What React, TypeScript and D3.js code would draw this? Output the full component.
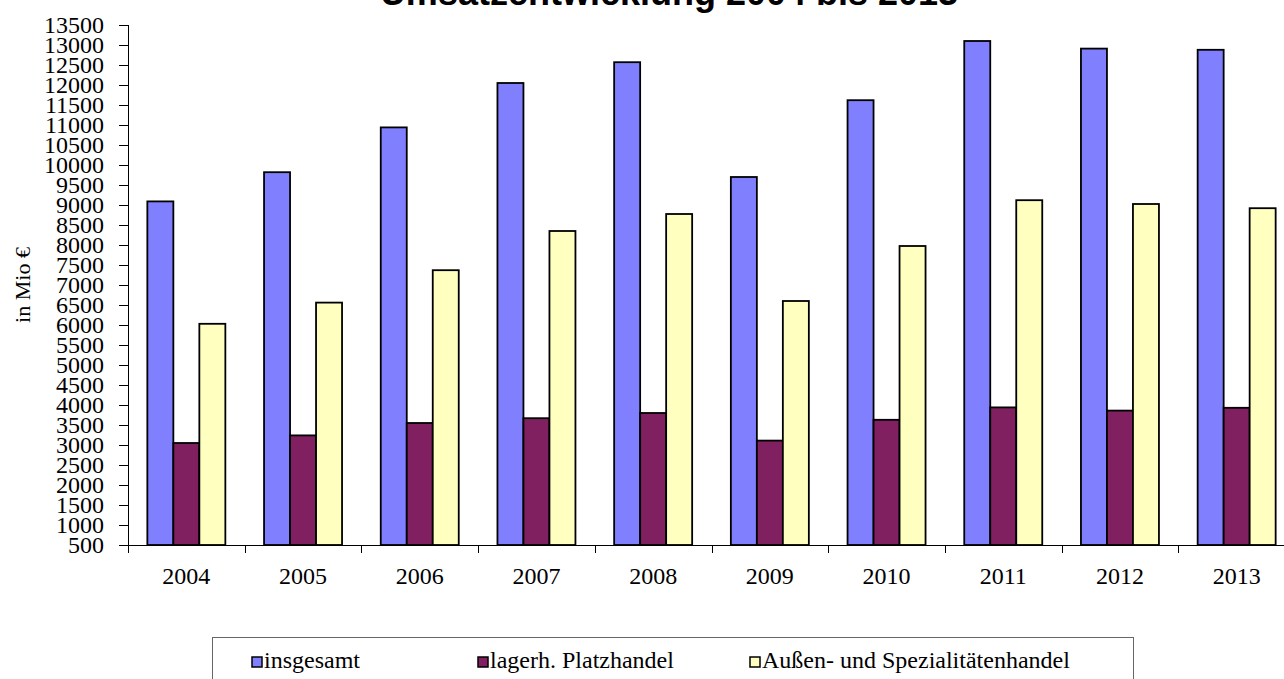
import * as React from "react";
import { scaleBand, scaleLinear } from "d3";

const years = ["2004", "2005", "2006", "2007", "2008", "2009", "2010", "2011", "2012", "2013"];
const seriesNames = ["insgesamt", "lagerh. Platzhandel", "Außen- und Spezialitätenhandel"];
const insgesamt = [9090, 9820, 10940, 12050, 12570, 9700, 11620, 13100, 12910, 12880];
const platzhandel = [3050, 3240, 3550, 3670, 3800, 3110, 3630, 3940, 3860, 3930];
const spezialhandel = [6030, 6560, 7370, 8350, 8775, 6600, 7975, 9120, 9025, 8920];
const yTicks = [500, 1000, 1500, 2000, 2500, 3000, 3500, 4000, 4500, 5000, 5500, 6000, 6500, 7000,
  7500, 8000, 8500, 9000, 9500, 10000, 10500, 11000, 11500, 12000, 12500, 13000, 13500];

const colors = ["#8080FF", "#802060", "#FFFFC0"];
const W = 1284;
const H = 679;
const margin = { left: 128, top: 25, bottom: 545 };
const bandW = 116.7;
const serif = "'Liberation Serif', 'Times New Roman', serif";

const App = () => {
  const values = [insgesamt, platzhandel, spezialhandel];

  const x = scaleBand<string>()
    .domain(years)
    .range([margin.left, margin.left + bandW * years.length]);
  const inner = scaleBand<string>()
    .domain(seriesNames)
    .range([19.35, 19.35 + 78]);
  const y = scaleLinear().domain([500, 13500]).range([margin.bottom, margin.top]);

  const legendX = [252, 478, 750];

  return (
    <svg
      width={W}
      height={H}
      style={{ position: "absolute", left: 0, top: 0, background: "#fff" }}
    >
      <text
        x={669}
        y={5}
        textAnchor="middle"
        fontFamily="'Liberation Sans', Arial, sans-serif"
        fontWeight="bold"
        fontSize={36}
      >
        Umsatzentwicklung 2004 bis 2013
      </text>

      {/* bars */}
      {years.map((yr, i) => (
        <g key={yr} transform={`translate(${x(yr)},0)`}>
          {seriesNames.map((s, j) => (
            <rect
              key={s}
              x={inner(s)}
              y={y(values[j][i])}
              width={inner.bandwidth()}
              height={y(500) - y(values[j][i])}
              fill={colors[j]}
              stroke="#000"
              strokeWidth={1.8}
            />
          ))}
        </g>
      ))}

      {/* y axis */}
      <line x1={margin.left + 0.5} x2={margin.left + 0.5} y1={y(13500)} y2={y(500)} stroke="#000" />
      {yTicks.map(t => (
        <g key={t}>
          <line x1={119} x2={margin.left} y1={Math.round(y(t)) + 0.5} y2={Math.round(y(t)) + 0.5} stroke="#000" />
          <text
            x={104}
            y={y(t) + 8}
            textAnchor="end"
            fontFamily={serif}
            fontSize={24}
          >
            {t}
          </text>
        </g>
      ))}

      {/* x axis */}
      <line x1={margin.left} x2={W} y1={y(500) + 0.5} y2={y(500) + 0.5} stroke="#000" />
      {years.map(yr => (
        <g key={yr}>
          <line
            x1={Math.round(x(yr)!) + 0.5}
            x2={Math.round(x(yr)!) + 0.5}
            y1={y(500)}
            y2={y(500) + 8}
            stroke="#000"
          />
          <text
            x={x(yr)! + x.bandwidth() / 2}
            y={584}
            textAnchor="middle"
            fontFamily={serif}
            fontSize={24}
          >
            {yr}
          </text>
        </g>
      ))}

      <text
        transform="translate(30,285) rotate(-90)"
        textAnchor="middle"
        fontFamily={serif}
        fontSize={22}
      >
        in Mio €
      </text>

      {/* legend */}
      <rect x={212.5} y={637.5} width={921} height={60} fill="#fff" stroke="#666" />
      {seriesNames.map((s, j) => (
        <g key={s} transform={`translate(${legendX[j]},0)`}>
          <rect x={0} y={657} width={10} height={10} fill={colors[j]} stroke="#000" strokeWidth={1.5} />
          <text x={12} y={668} fontFamily={serif} fontSize={24}>
            {s}
          </text>
        </g>
      ))}
    </svg>
  );
};

export default App;
